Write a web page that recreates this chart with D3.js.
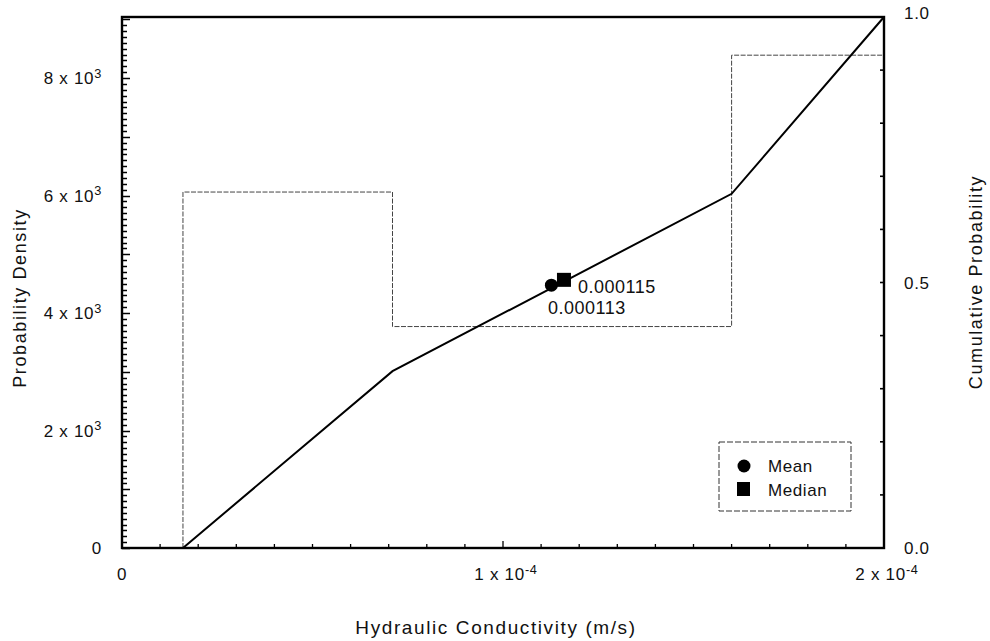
<!DOCTYPE html>
<html><head><meta charset="utf-8">
<script src="https://cdn.jsdelivr.net/npm/d3@7"></script>
<style>
body{margin:0;background:#fff;}
text{font-family:"Liberation Sans",Arial,Helvetica,sans-serif;fill:#111;}
</style></head>
<body><svg id="c" width="990" height="641"></svg>
<script>
// ---- data ----
const binEdges = [0.000016, 0.000071, 0.000160, 0.000200];   // histogram bin edges (m/s)
const binDensity = [6060, 3770, 8390];                       // probability density per bin
const cdfX = [0.000016, 0.000071, 0.000160, 0.000200];       // cumulative curve x
const cdfY = [0.0, 0.333, 0.667, 1.0];                       // cumulative probability
const statNames = ["Mean", "Median"];
const statX = [0.0001127, 0.0001160];
const statCum = [0.495, 0.505];
const statLabels = ["0.000113", "0.000115"];
const leftTicks = [0, 2000, 4000, 6000, 8000];
const leftTickLabels = ["0", "2 x 10|3", "4 x 10|3", "6 x 10|3", "8 x 10|3"];
const bottomTicks = [0, 0.0001, 0.0002];
const bottomTickLabels = ["0", "1 x 10|-4", "2 x 10|-4"];
const rightTicks = [0, 0.5, 1.0];
const rightTickLabels = ["0.0", "0.5", "1.0"];

// ---- layout ----
const L = 122, R = 884, T = 17, B = 548;
const svg = d3.select("#c");
const x = d3.scaleLinear().domain([0, 0.0002]).range([L, R]);
const y = d3.scaleLinear().domain([0, 9040]).range([B, T]);
const y2 = d3.scaleLinear().domain([0, 1]).range([B, T]);

function supText(sel, s){
  const p = s.split("|");
  sel.text(null);
  sel.append("tspan").text(p[0]);
  if (p[1]) sel.append("tspan").attr("dy", "-0.5em").attr("font-size", "0.75em").text(p[1]);
}

// histogram (step outline)
const hist = [];
for (let i = 0; i < binDensity.length; i++) {
  hist.push([binEdges[i], i === 0 ? 0 : binDensity[i-1]]);
  hist.push([binEdges[i], binDensity[i]]);
}
hist.push([binEdges[binEdges.length-1], binDensity[binDensity.length-1]]);
svg.append("path")
  .attr("d", d3.line().x(d => x(d[0])).y(d => y(d[1]))(hist))
  .attr("fill", "none").attr("stroke", "#444").attr("stroke-width", 1)
  .attr("stroke-dasharray", "5,1.5");

// cumulative curve
svg.append("path")
  .attr("d", d3.line().x((d, i) => x(d)).y((d, i) => y2(cdfY[i]))(cdfX))
  .attr("fill", "none").attr("stroke", "#000").attr("stroke-width", 2);

// left axis ticks (minor every 100, major every 1000)
const leftMinor = d3.range(0, 91).map(i => i * 100);
svg.append("g").selectAll("line").data(leftMinor).join("line")
  .attr("x1", L).attr("x2", d => L + (d % 1000 === 0 ? 8 : 5))
  .attr("y1", d => Math.round(y(d)) + 0.5).attr("y2", d => Math.round(y(d)) + 0.5)
  .attr("stroke", "#000").attr("stroke-width", 1.5);

// bottom ticks
const bottomMinor = d3.range(0, 21).map(i => i * 0.00001);
svg.append("g").selectAll("line").data(bottomMinor).join("line")
  .attr("x1", d => x(d)).attr("x2", d => x(d))
  .attr("y1", B).attr("y2", (d, i) => B - (i % 10 === 0 ? 7 : 4))
  .attr("stroke", "#000").attr("stroke-width", 1.3);

// right ticks
const rightMinor = d3.range(0, 11).map(i => i / 10);
svg.append("g").selectAll("line").data(rightMinor).join("line")
  .attr("x1", R).attr("x2", R - 4)
  .attr("y1", d => y2(d)).attr("y2", d => y2(d))
  .attr("stroke", "#000").attr("stroke-width", 1.6);

// frame
svg.append("rect").attr("x", L).attr("y", T).attr("width", R - L).attr("height", B - T)
  .attr("fill", "none").attr("stroke", "#000").attr("stroke-width", 2.4);

// tick labels
leftTicks.forEach((v, i) => {
  const t = svg.append("text").attr("x", 102).attr("y", y(v) + 6).attr("text-anchor", "end")
    .attr("font-size", 17).attr("letter-spacing", 0.7);
  supText(t, leftTickLabels[i]);
});
bottomTicks.forEach((v, i) => {
  const t = svg.append("text").attr("x", x(v) + (i ? 3 : 0)).attr("y", 580).attr("text-anchor", "middle")
    .attr("font-size", 17).attr("letter-spacing", 0.7);
  supText(t, bottomTickLabels[i]);
});
rightTicks.forEach((v, i) => {
  svg.append("text").attr("x", 904).attr("y", y2(v) + 6 - (v === 1 ? 4 : 0))
    .attr("font-size", 17).attr("letter-spacing", 0.7).text(rightTickLabels[i]);
});

// axis titles
svg.append("text").attr("x", 496).attr("y", 634).attr("text-anchor", "middle")
  .attr("font-size", 19).attr("letter-spacing", 1.6).text("Hydraulic Conductivity (m/s)");
svg.append("text").attr("transform", "translate(26,298) rotate(-90)").attr("text-anchor", "middle")
  .attr("font-size", 18).attr("letter-spacing", 1.6).text("Probability Density");
svg.append("text").attr("transform", "translate(982,282) rotate(-90)").attr("text-anchor", "middle")
  .attr("font-size", 18).attr("letter-spacing", 1.6).text("Cumulative Probability");

// stat markers
svg.append("circle").attr("cx", x(statX[0])).attr("cy", y2(statCum[0])).attr("r", 6.5).attr("fill", "#000");
svg.append("rect").attr("x", x(statX[1]) - 7).attr("y", y2(statCum[1]) - 7).attr("width", 14).attr("height", 14).attr("fill", "#000");
svg.append("text").attr("x", 578).attr("y", 293).attr("font-size", 18).attr("letter-spacing", 0.5).text(statLabels[1]);
svg.append("text").attr("x", 548).attr("y", 314).attr("font-size", 18).attr("letter-spacing", 0.5).text(statLabels[0]);

// legend
const lg = svg.append("g");
lg.append("rect").attr("x", 719).attr("y", 442).attr("width", 132).attr("height", 69)
  .attr("fill", "#fff").attr("stroke", "#333").attr("stroke-width", 1).attr("stroke-dasharray", "6,2");
lg.append("circle").attr("cx", 744).attr("cy", 466).attr("r", 6.5).attr("fill", "#000");
lg.append("rect").attr("x", 737).attr("y", 482).attr("width", 13).attr("height", 14).attr("fill", "#000");
lg.append("text").attr("x", 768).attr("y", 472).attr("font-size", 17).attr("letter-spacing", 0.6).text(statNames[0]);
lg.append("text").attr("x", 768).attr("y", 496).attr("font-size", 17).attr("letter-spacing", 0.6).text(statNames[1]);
</script></body></html>
